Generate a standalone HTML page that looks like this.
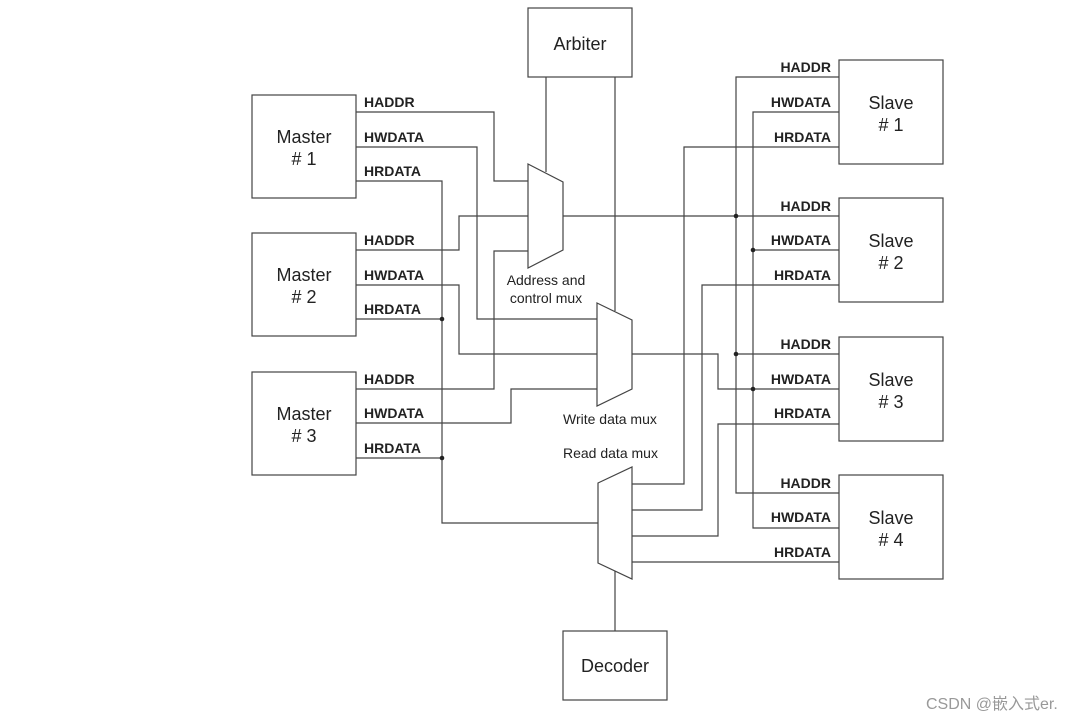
<!DOCTYPE html>
<html><head><meta charset="utf-8"><style>
html,body{margin:0;padding:0;background:#fff;}
svg{display:block;}
text{font-family:"Liberation Sans",Arial,sans-serif;fill:#222;}
.b{font-weight:bold;font-size:14px;}
.n{font-size:18px;}
.s{font-size:14px;}
</style></head><body>
<svg width="1080" height="721" viewBox="0 0 1080 721" xmlns="http://www.w3.org/2000/svg">
<g fill="none" stroke="#444" stroke-width="1.2">
<rect x="252" y="95" width="104" height="103"/>
<rect x="252" y="233" width="104" height="103"/>
<rect x="252" y="372" width="104" height="103"/>
<rect x="839" y="60" width="104" height="104"/>
<rect x="839" y="198" width="104" height="104"/>
<rect x="839" y="337" width="104" height="104"/>
<rect x="839" y="475" width="104" height="104"/>
<rect x="528" y="8" width="104" height="69"/>
<rect x="563" y="631" width="104" height="69"/>
<polygon points="528,164 563,182 563,250 528,268"/>
<polygon points="597,303 632,320 632,389 597,406"/>
<polygon points="598,483 632,467 632,579 598,563"/>
<path d="M546,77V172 M615,77V311 M615,571V631"/>
<path d="M356,112H494V181H528"/>
<path d="M356,147H477V319H597"/>
<path d="M356,181H442V523H598"/>
<path d="M356,250H459V216H528"/>
<path d="M356,285H459V354H597"/>
<path d="M356,319H442"/>
<path d="M356,389H494V251H528"/>
<path d="M356,423H511V389H597"/>
<path d="M356,458H442"/>
<path d="M563,216H839"/>
<path d="M632,354H718V389H839"/>
<path d="M839,77H736V493H839"/>
<path d="M839,112H753V528H839"/>
<path d="M736,354H839"/>
<path d="M753,250H839"/>
<path d="M839,147H684V484H632"/>
<path d="M839,285H702V510H632"/>
<path d="M839,424H718V536H632"/>
<path d="M839,562H632"/>
</g>
<g fill="#222">
<circle cx="442" cy="319" r="2.3"/>
<circle cx="442" cy="458" r="2.3"/>
<circle cx="736" cy="216" r="2.3"/>
<circle cx="736" cy="354" r="2.3"/>
<circle cx="753" cy="250" r="2.3"/>
<circle cx="753" cy="389" r="2.3"/>
</g>
<text class="n" x="580" y="50" text-anchor="middle">Arbiter</text>
<text class="n" x="615" y="672" text-anchor="middle">Decoder</text>
<text class="n" x="304" y="143" text-anchor="middle">Master</text><text class="n" x="304" y="165" text-anchor="middle"># 1</text>
<text class="n" x="304" y="281" text-anchor="middle">Master</text><text class="n" x="304" y="303" text-anchor="middle"># 2</text>
<text class="n" x="304" y="420" text-anchor="middle">Master</text><text class="n" x="304" y="442" text-anchor="middle"># 3</text>
<text class="n" x="891" y="109" text-anchor="middle">Slave</text><text class="n" x="891" y="131" text-anchor="middle"># 1</text>
<text class="n" x="891" y="247" text-anchor="middle">Slave</text><text class="n" x="891" y="269" text-anchor="middle"># 2</text>
<text class="n" x="891" y="386" text-anchor="middle">Slave</text><text class="n" x="891" y="408" text-anchor="middle"># 3</text>
<text class="n" x="891" y="524" text-anchor="middle">Slave</text><text class="n" x="891" y="546" text-anchor="middle"># 4</text>
<text class="b" x="364" y="107">HADDR</text><text class="b" x="364" y="142">HWDATA</text><text class="b" x="364" y="176">HRDATA</text>
<text class="b" x="364" y="245">HADDR</text><text class="b" x="364" y="280">HWDATA</text><text class="b" x="364" y="314">HRDATA</text>
<text class="b" x="364" y="384">HADDR</text><text class="b" x="364" y="418">HWDATA</text><text class="b" x="364" y="453">HRDATA</text>
<text class="b" x="831" y="72" text-anchor="end">HADDR</text><text class="b" x="831" y="107" text-anchor="end">HWDATA</text><text class="b" x="831" y="142" text-anchor="end">HRDATA</text>
<text class="b" x="831" y="211" text-anchor="end">HADDR</text><text class="b" x="831" y="245" text-anchor="end">HWDATA</text><text class="b" x="831" y="280" text-anchor="end">HRDATA</text>
<text class="b" x="831" y="349" text-anchor="end">HADDR</text><text class="b" x="831" y="384" text-anchor="end">HWDATA</text><text class="b" x="831" y="418" text-anchor="end">HRDATA</text>
<text class="b" x="831" y="488" text-anchor="end">HADDR</text><text class="b" x="831" y="522" text-anchor="end">HWDATA</text><text class="b" x="831" y="557" text-anchor="end">HRDATA</text>
<text class="s" x="546" y="285" text-anchor="middle">Address and</text>
<text class="s" x="546" y="303" text-anchor="middle">control mux</text>
<text class="s" x="563" y="424">Write data mux</text>
<text class="s" x="563" y="458">Read data mux</text>
<text x="926" y="709" style="font-family:'Liberation Sans','Noto Sans CJK SC',sans-serif;font-size:16px;fill:#999;">CSDN @嵌入式er.</text>
</svg>
</body></html>
